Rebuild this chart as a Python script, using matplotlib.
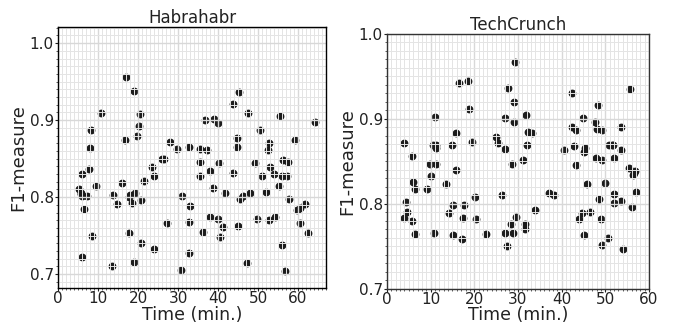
import matplotlib
matplotlib.use("Agg")
import matplotlib.pyplot as plt
from matplotlib.ticker import MultipleLocator

# ---- Habrahabr data (time in minutes, F1-measure) ----
habr_time = [5.3, 5.7, 5.8, 6.1, 6.0, 6.6, 7.3, 5.9, 7.8, 8.0, 8.3, 8.4, 9.6, 10.75,
             13.8, 13.6, 14.75, 16.1, 16.9, 16.75, 17.75, 18.1, 18.4, 19.3, 19.1, 19.0,
             17.75, 19.8, 20.3, 20.5, 20.7, 20.75, 21.4, 23.5, 24.1, 24.0, 26.1, 26.5,
             27.25, 28.0, 29.8, 31.1, 30.8, 32.75, 32.9, 32.75, 32.75, 35.5, 35.5, 35.6,
             36.2, 36.8, 37.3, 38.0, 38.0, 38.75, 38.9, 40.0, 40.2, 40.0, 40.4, 41.3,
             41.7, 43.7, 43.8, 44.75, 44.75, 45.25, 45.1, 45.4, 46.3, 47.2, 47.5, 47.9,
             49.2, 49.8, 50.5, 51.1, 52.1, 52.4, 52.75, 53.0, 52.8, 54.1, 54.3, 55.25,
             55.5, 56.1, 56.2, 56.1, 56.7, 57.3, 57.4, 57.75, 59.3, 59.7, 60.4, 60.5,
             61.7, 62.4, 64.2]
habr_f1 = [0.811, 0.806, 0.804, 0.801, 0.830, 0.785, 0.802, 0.722, 0.837, 0.864, 0.887,
           0.750, 0.815, 0.909, 0.803, 0.710, 0.791, 0.818, 0.956, 0.874, 0.800, 0.803,
           0.792, 0.806, 0.938, 0.716, 0.754, 0.879, 0.893, 0.908, 0.796, 0.741, 0.821,
           0.839, 0.828, 0.733, 0.850, 0.850, 0.767, 0.871, 0.863, 0.801, 0.706, 0.865,
           0.788, 0.768, 0.728, 0.862, 0.846, 0.827, 0.755, 0.900, 0.861, 0.834, 0.774,
           0.812, 0.901, 0.896, 0.845, 0.771, 0.748, 0.761, 0.805, 0.832, 0.921, 0.877,
           0.865, 0.936, 0.762, 0.797, 0.801, 0.715, 0.909, 0.806, 0.844, 0.772, 0.887,
           0.827, 0.807, 0.861, 0.870, 0.839, 0.770, 0.830, 0.774, 0.815, 0.906, 0.827,
           0.848, 0.738, 0.704, 0.827, 0.846, 0.798, 0.874, 0.783, 0.786, 0.766, 0.791,
           0.754, 0.897]

# ---- TechCrunch data ----
tc_time = [4.0, 4.0, 4.4, 4.65, 5.65, 5.7, 5.97, 6.5, 6.5, 9.1, 9.85, 10.1, 10.55, 11.3,
           11.3, 11.3, 11.0, 10.7, 13.5, 14.2, 14.8, 15.2, 15.2, 15.75, 15.8, 16.6, 18.5,
           18.7, 17.3, 17.1, 17.75, 19.4, 20.1, 20.5, 22.6, 25.0, 25.4, 26.3, 27.1, 27.1,
           27.0, 27.4, 27.8, 28.5, 28.7, 28.9, 29.0, 29.1, 29.3, 29.6, 31.1, 31.5, 31.7,
           31.75, 32.1, 32.4, 33.3, 34.0, 37.0, 38.3, 40.5, 42.4, 42.4, 42.8, 43.2, 43.4,
           43.9, 44.6, 44.85, 45.1, 45.4, 45.1, 45.8, 46.4, 47.7, 48.0, 47.9, 48.3, 48.5,
           49.0, 49.3, 49.3, 49.3, 49.9, 50.7, 50.9, 51.6, 51.8, 51.95, 51.95, 51.95,
           53.6, 53.6, 53.7, 54.1, 55.5, 55.7, 56.2, 56.4, 56.5, 56.7, 57.1]
tc_f1 = [0.872, 0.783, 0.802, 0.791, 0.857, 0.780, 0.826, 0.818, 0.765, 0.818, 0.847,
         0.833, 0.869, 0.869, 0.866, 0.847, 0.902, 0.766, 0.824, 0.789, 0.869, 0.799,
         0.764, 0.840, 0.884, 0.942, 0.945, 0.912, 0.784, 0.759, 0.799, 0.873, 0.808,
         0.782, 0.765, 0.879, 0.872, 0.810, 0.865, 0.901, 0.766, 0.751, 0.937, 0.777,
         0.847, 0.766, 0.920, 0.897, 0.967, 0.785, 0.852, 0.776, 0.771, 0.905, 0.869,
         0.885, 0.883, 0.793, 0.813, 0.811, 0.863, 0.931, 0.891, 0.868, 0.887, 0.846,
         0.782, 0.789, 0.901, 0.861, 0.866, 0.763, 0.823, 0.791, 0.896, 0.888, 0.854,
         0.916, 0.806, 0.782, 0.752, 0.887, 0.852, 0.825, 0.760, 0.869, 0.869, 0.869,
         0.854, 0.812, 0.801, 0.890, 0.804, 0.864, 0.747, 0.842, 0.935, 0.797, 0.834,
         0.836, 0.839, 0.814]

titles = ["Habrahabr", "TechCrunch"]
x_ticks = [0, 10, 20, 30, 40, 50, 60]
y_ticks = [0.7, 0.8, 0.9, 1.0]

plt.rcParams['font.family'] = ['DejaVu Sans']

fig = plt.figure(figsize=(6.73, 3.25), dpi=100)
ax1 = fig.add_axes([0.0862, 0.1138, 0.3982, 0.8031])
ax2 = fig.add_axes([0.575, 0.1108, 0.3893, 0.7846])

configs = [
    (ax1, habr_time, habr_f1, (0, 67), (0.682, 1.021), 'black'),
    (ax2, tc_time, tc_f1, (0, 60), (0.7, 1.0), '#333333'),
]

for i, (ax, xs, ys, xl, yl, spc) in enumerate(configs):
    ax.plot(xs, ys, linestyle='none', marker='o', markersize=4.6,
            color='#1c1c1c', markeredgecolor='#1c1c1c', zorder=2)
    ax.set_xlim(*xl)
    ax.set_ylim(*yl)
    ax.set_xticks(x_ticks)
    ax.set_yticks(y_ticks)
    ax.set_yticklabels([f"{v:.1f}" for v in y_ticks])
    ax.xaxis.set_minor_locator(MultipleLocator(1))
    ax.yaxis.set_minor_locator(MultipleLocator(0.01))
    ax.set_axisbelow(False)
    ax.grid(which='major', color='#d8d8d8', linewidth=1.0, zorder=3)
    ax.grid(which='minor', color='#e4e4e4', linewidth=0.7, zorder=3)
    ax.tick_params(which='major', direction='out', length=2, width=0.8,
                   labelsize=11, colors='#222222', pad=1)
    ax.tick_params(axis='x', which='major', pad=0.3)
    ax.tick_params(which='minor', direction='out', length=1.5, width=0.6,
                   colors='#444444')
    for s in ax.spines.values():
        s.set_color(spc)
        s.set_linewidth(1.0)
        s.set_zorder(5)
    ax.set_xlabel("Time (min.)", fontsize=12.5, color='#222222', labelpad=-0.5)
    ax.set_ylabel("F1-measure", fontsize=13, color='#222222', labelpad=2)
    ax.set_title(titles[i], fontsize=12, color='#222222', pad=2)

fig.savefig("out.png", dpi=100)
